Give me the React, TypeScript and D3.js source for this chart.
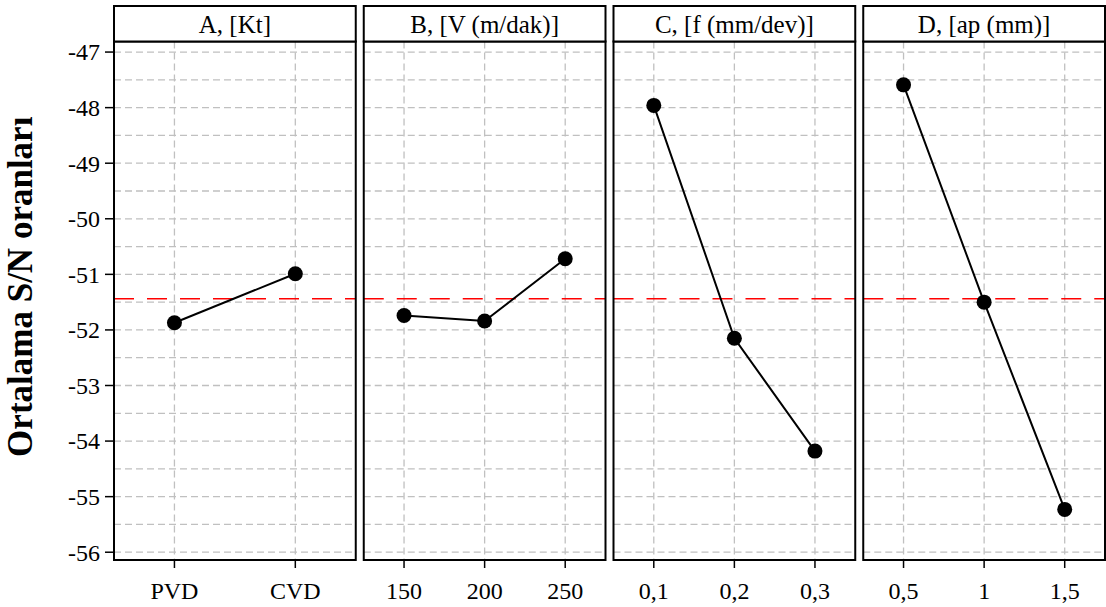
import React from "react";
import * as d3 from "d3";

// Main effects plot for S/N ratios
const panelTitles = ["A, [Kt]", "B, [V (m/dak)]", "C, [f (mm/dev)]", "D, [ap (mm)]"];
const levelsA = ["PVD", "CVD"];
const levelsB = ["150", "200", "250"];
const levelsC = ["0,1", "0,2", "0,3"];
const levelsD = ["0,5", "1", "1,5"];
const snA = [-51.87, -50.99];
const snB = [-51.74, -51.84, -50.72];
const snC = [-47.96, -52.15, -54.18];
const snD = [-47.59, -51.5, -55.23];
const meanSN = -51.44;
const yTicks = [-56, -55, -54, -53, -52, -51, -50, -49, -48, -47];
const yMinor = [-55.5, -54.5, -53.5, -52.5, -51.5, -50.5, -49.5, -48.5, -47.5];

const W = 1106;
const H = 607;
const margin = { left: 114, right: 1, top: 6, bottom: 47 };
const stripH = 35.5;
const gap = 8;
const font = "'Liberation Serif', 'Times New Roman', serif";

export default function App() {
  const panels = [
    { title: panelTitles[0], levels: levelsA, values: snA },
    { title: panelTitles[1], levels: levelsB, values: snB },
    { title: panelTitles[2], levels: levelsC, values: snC },
    { title: panelTitles[3], levels: levelsD, values: snD },
  ];

  const plotTop = margin.top + stripH;
  const plotBottom = H - margin.bottom;
  const panelW = (W - margin.left - margin.right - gap * (panels.length - 1)) / panels.length;

  const y = d3.scaleLinear().domain([-56.14, -46.81]).range([plotBottom, plotTop]);

  return (
    <svg width={W} height={H} style={{ position: "absolute", left: 0, top: 0, background: "#fff" }}>
      {/* y axis */}
      {yTicks.map((t) => (
        <g key={t}>
          <line x1={margin.left - 9} x2={margin.left} y1={y(t)} y2={y(t)} stroke="#000" strokeWidth={1.5} />
          <text
            x={margin.left - 14}
            y={y(t)}
            dy="0.35em"
            textAnchor="end"
            fontFamily={font}
            fontSize={24}
            fill="#000"
          >
            {t}
          </text>
        </g>
      ))}
      <text
        transform={`translate(32,${(plotTop + plotBottom) / 2 - 14}) rotate(-90)`}
        textAnchor="middle"
        fontFamily={font}
        fontWeight="bold"
        fontSize={35}
        fill="#000"
      >
        Ortalama S/N oranları
      </text>

      {panels.map((p, i) => {
        const x0 = margin.left + i * (panelW + gap);
        const x = d3.scalePoint<string>().domain(p.levels).range([x0, x0 + panelW]).padding(0.5);
        const line = d3
          .line<number>()
          .x((_, j) => x(p.levels[j]) as number)
          .y((d) => y(d));
        return (
          <g key={p.title}>
            {/* grid */}
            {yMinor.concat(yTicks).map((t) => (
              <line
                key={"h" + t}
                x1={x0}
                x2={x0 + panelW}
                y1={y(t)}
                y2={y(t)}
                stroke="#c0c0c0"
                strokeWidth={1.3}
                strokeDasharray="7,4"
              />
            ))}
            {p.levels.map((l) => (
              <line
                key={"v" + l}
                x1={x(l)}
                x2={x(l)}
                y1={plotTop}
                y2={plotBottom}
                stroke="#c0c0c0"
                strokeWidth={1.3}
                strokeDasharray="7,4"
              />
            ))}
            {/* mean line */}
            <line
              x1={x0}
              x2={x0 + panelW}
              y1={y(meanSN)}
              y2={y(meanSN)}
              stroke="#ff0000"
              strokeWidth={1.6}
              strokeDasharray="20,13"
            />
            <path d={line(p.values) ?? ""} fill="none" stroke="#000" strokeWidth={2} />
            {p.values.map((v, j) => (
              <circle key={j} cx={x(p.levels[j])} cy={y(v)} r={7.5} fill="#000" />
            ))}
            {/* frame */}
            <rect x={x0} y={plotTop} width={panelW} height={plotBottom - plotTop} fill="none" stroke="#000" strokeWidth={2} />
            {/* strip */}
            <rect x={x0} y={margin.top} width={panelW} height={stripH} fill="#fff" stroke="#000" strokeWidth={2} />
            <text
              x={x0 + panelW / 2}
              y={margin.top + stripH / 2}
              dy="0.35em"
              textAnchor="middle"
              fontFamily={font}
              fontSize={25}
              fill="#000"
            >
              {p.title}
            </text>
            {/* x axis */}
            {p.levels.map((l) => (
              <g key={"t" + l}>
                <line x1={x(l)} x2={x(l)} y1={plotBottom} y2={plotBottom + 8} stroke="#000" strokeWidth={1.5} />
                <text
                  x={x(l)}
                  y={plotBottom + 31}
                  dy="0.35em"
                  textAnchor="middle"
                  fontFamily={font}
                  fontSize={24}
                  fill="#000"
                >
                  {l}
                </text>
              </g>
            ))}
          </g>
        );
      })}
    </svg>
  );
}
